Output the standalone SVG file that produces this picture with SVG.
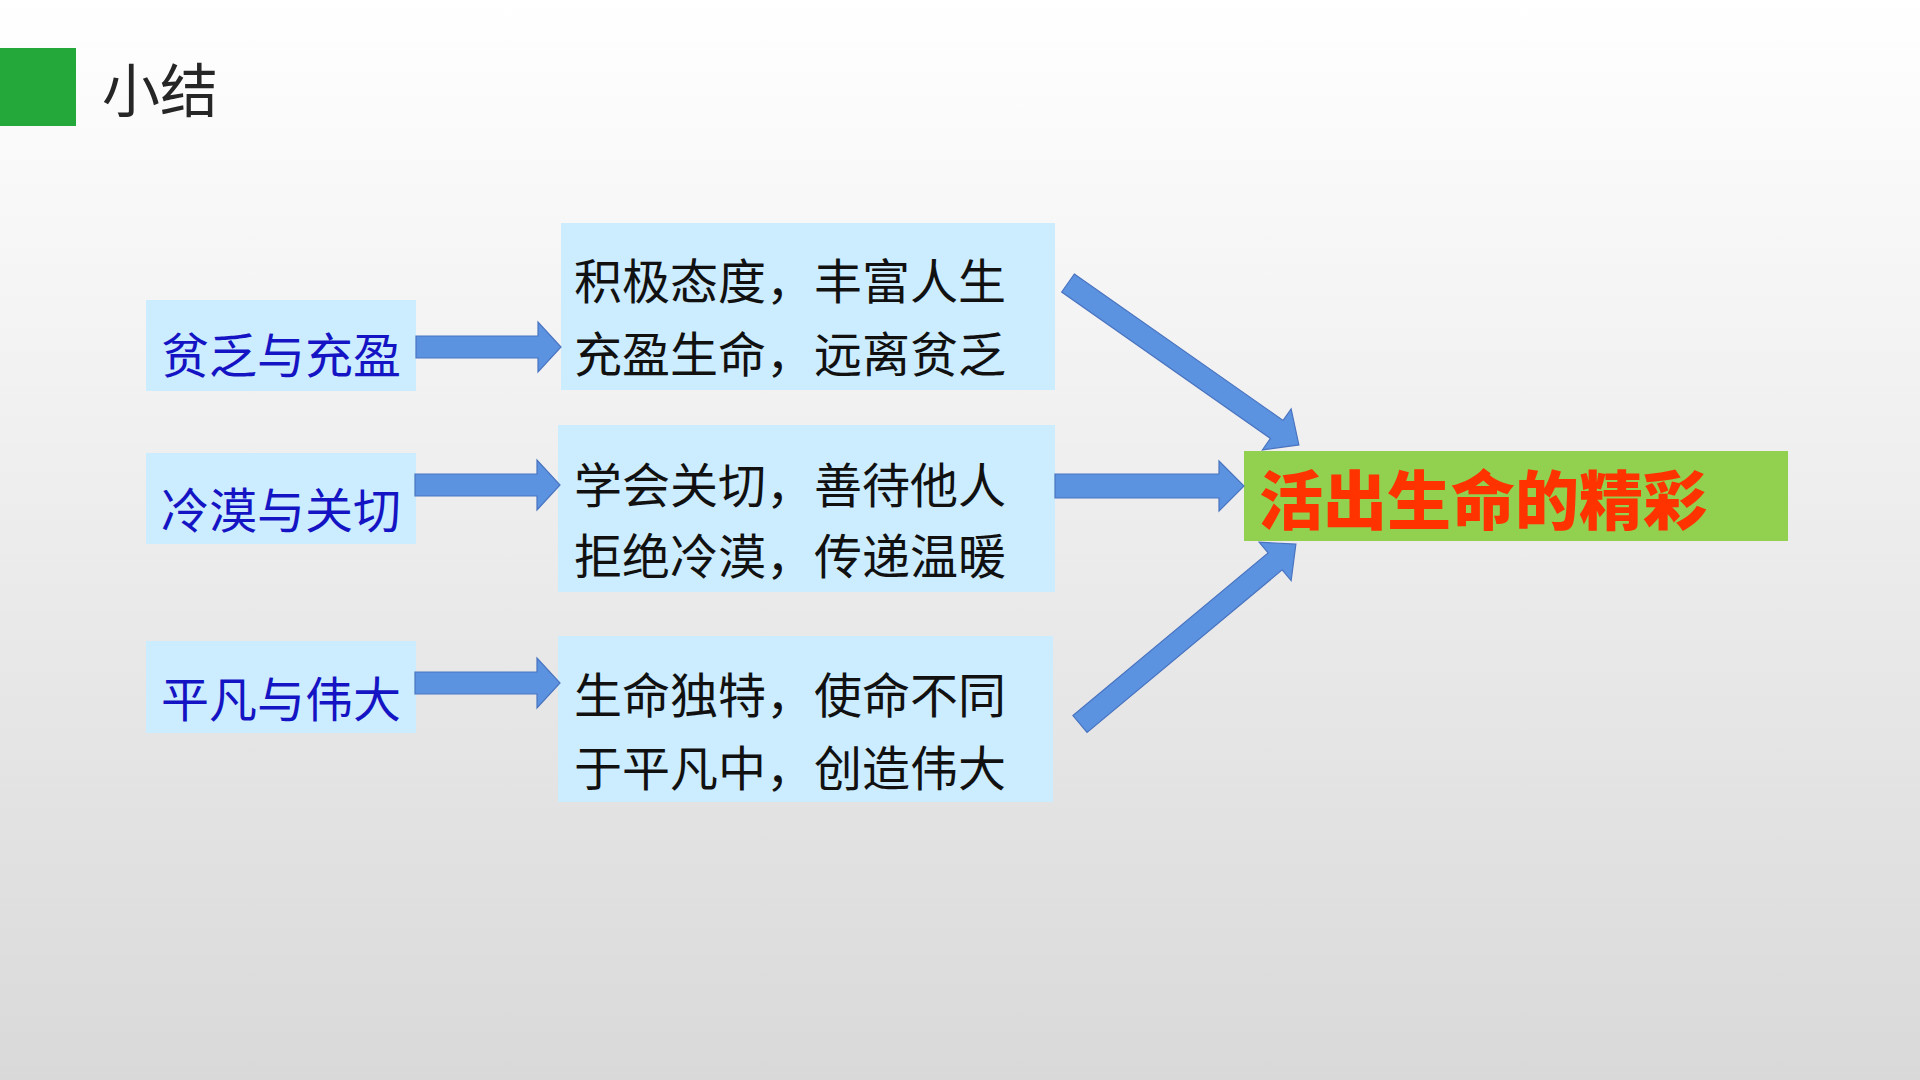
<svg xmlns="http://www.w3.org/2000/svg" width="1920" height="1080" viewBox="0 0 1920 1080">
<defs>
<linearGradient id="bg" x1="0" y1="0" x2="0" y2="1">
<stop offset="0" stop-color="#ffffff"/>
<stop offset="1" stop-color="#d9d9d9"/>
</linearGradient>
<polygon id="harrow" points="0,-11 122,-11 122,-25 145,0 122,25 122,11 0,11"/>
</defs>
<style>
.cjk{font-family:"Noto Sans CJK SC","Noto Sans",sans-serif}
.lbox{fill:#ccecff}
.ltxt{font-size:48px;fill:#1414c4}
.mtxt{font-size:48px;fill:#111111}
.arr{fill:#5b93e1;stroke:#4a74c0;stroke-width:1.2}
</style>
<rect x="0" y="0" width="1920" height="1080" fill="url(#bg)"/>
<g id="title">
<rect x="0" y="48" width="76" height="78" fill="#25a83a"/>
<text class="cjk" x="102" y="112" font-size="58" fill="#262626">小结</text>
</g>
<g id="node-left1">
<rect class="lbox" x="146" y="300" width="270" height="91"/>
<text class="cjk ltxt" x="161" y="373">贫乏与充盈</text>
</g>
<g id="node-left2">
<rect class="lbox" x="146" y="453" width="270" height="91"/>
<text class="cjk ltxt" x="161" y="528">冷漠与关切</text>
</g>
<g id="node-left3">
<rect class="lbox" x="146" y="641" width="270" height="92"/>
<text class="cjk ltxt" x="161" y="717">平凡与伟大</text>
</g>
<g id="node-mid1">
<rect class="lbox" x="561" y="223" width="494" height="167"/>
<text class="cjk mtxt" x="574" y="299">积极态度，丰富人生</text>
<text class="cjk mtxt" x="574" y="372">充盈生命，远离贫乏</text>
</g>
<g id="node-mid2">
<rect class="lbox" x="558" y="425" width="497" height="167"/>
<text class="cjk mtxt" x="574" y="503">学会关切，善待他人</text>
<text class="cjk mtxt" x="574" y="574">拒绝冷漠，传递温暖</text>
</g>
<g id="node-mid3">
<rect class="lbox" x="558" y="636" width="495" height="166"/>
<text class="cjk mtxt" x="574" y="713">生命独特，使命不同</text>
<text class="cjk mtxt" x="574" y="786">于平凡中，创造伟大</text>
</g>
<g id="node-result">
<rect x="1244" y="451" width="544" height="90" fill="#92d050"/>
<text class="cjk" x="1259" y="524" font-size="64" font-weight="900" fill="#ff3300">活出生命的精彩</text>
</g>
<g id="connectors">
<use href="#harrow" class="arr" transform="translate(416,347)"/>
<use href="#harrow" class="arr" transform="translate(415,485)"/>
<use href="#harrow" class="arr" transform="translate(415,683)"/>
<polygon class="arr" points="1055,474 1219,474 1219,461 1244,486 1219,511 1219,498 1055,498"/>
<polygon class="arr" transform="translate(1068,283) rotate(35.04)" points="0,-11 255,-11 255,-25 282,0 255,25 255,11 0,11"/>
<polygon class="arr" transform="translate(1080,724) rotate(-39.8)" points="0,-11 254,-11 254,-25 281,0 254,25 254,11 0,11"/>
</g>
</svg>
